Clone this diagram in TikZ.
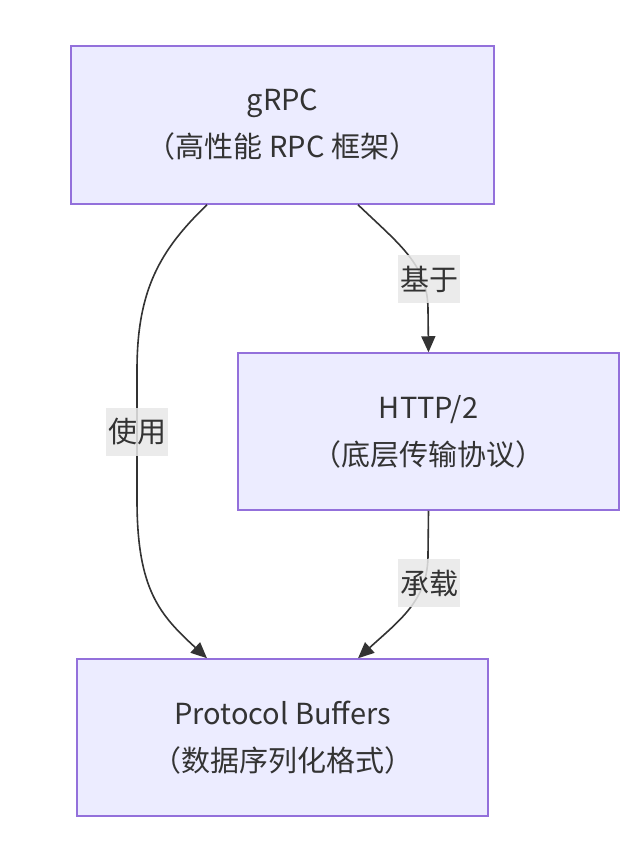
\documentclass[tikz,border=0pt]{standalone}
\usepackage{fontspec}
\setmainfont{Noto Sans CJK SC}
\usetikzlibrary{arrows.meta,positioning}
\definecolor{boxfill}{HTML}{ECECFF}
\definecolor{boxline}{HTML}{9370DB}
\definecolor{txt}{HTML}{333333}
\definecolor{lblfill}{HTML}{E8E8E8}

\begin{document}
\begin{tikzpicture}[x=1pt,y=-1pt,->,>={Triangle[length=16pt,width=14pt]},
                    line width=1.6pt,draw=txt,
                    block/.style={rectangle,draw=boxline,fill=boxfill,line width=1.5pt,
                      align=center,text=txt,font=\fontsize{29}{47}\selectfont},
                    lbl/.style={fill=lblfill,fill opacity=0.85,text opacity=1,text=txt,
                      inner xsep=2pt,minimum height=48pt,font=\fontsize{29}{34}\selectfont}]

  \useasboundingbox (0,0) rectangle (636,861);

  \node[block,minimum width=423pt,minimum height=158pt] (grpc) at (282.5,125)
       {gRPC\\（高性能 RPC 框架）};
  \node[block,minimum width=381pt,minimum height=157pt] (http) at (428.5,431.5)
       {HTTP/2\\（底层传输协议）};
  \node[block,minimum width=411pt,minimum height=157pt] (pb)   at (282.5,737.5)
       {Protocol Buffers\\（数据序列化格式）};

  % grpc -> protobuf (left curve)
  \draw ([xshift=-75.5pt]grpc.south) .. controls (160,250) and (137,290) .. (137,370)
        -- (137,500) .. controls (137,590) and (160,615) .. ([xshift=-75.5pt]pb.north);
  % grpc -> http
  \draw ([xshift=75.5pt]grpc.south) .. controls (400,245) and (428,265) .. (428,310)
        -- (http.north);
  % http -> protobuf
  \draw (http.south) -- (428,555) .. controls (428,600) and (400,620) .. ([xshift=75.5pt]pb.north);

  \node[lbl] (use)   at (137,432) {使用};
  \node[lbl] (base)  at (429,279) {基于};
  \node[lbl] (carry) at (429,583) {承载};
\end{tikzpicture}
\end{document}
